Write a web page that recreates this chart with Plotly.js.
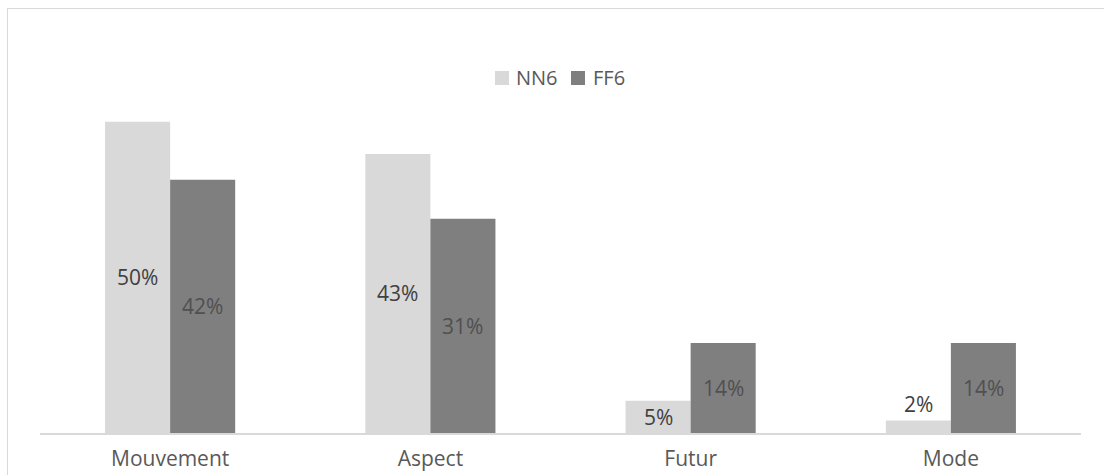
<!DOCTYPE html>
<html>
<head>
<meta charset="utf-8">
<script src="https://cdn.plot.ly/plotly-3.0.1.min.js"></script>
<style>
html,body{margin:0;padding:0;background:#fff;overflow:hidden;}
#wrap{position:relative;width:1104px;height:475px;}
#chart{position:absolute;left:0;top:0;width:1104px;height:475px;}
#frame{position:absolute;left:7px;top:8px;width:1200px;height:600px;border:1px solid #d9d9d9;pointer-events:none;}
</style>
</head>
<body>
<div id="wrap"><div id="chart"></div><div id="frame"></div></div>
<script>
const categories = ["Mouvement", "Aspect", "Futur", "Mode"];
const seriesNames = ["NN6", "FF6"];
const seriesColors = ["#d9d9d9", "#7f7f7f"];
// bar heights
const nn6Values = [49.4, 44.3, 5.1, 2.0];
const ff6Values = [40.2, 34.0, 14.3, 14.3];
// data labels as printed in the picture
const nn6Labels = ["50%", "43%", "5%", "2%"];
const ff6Labels = ["42%", "31%", "14%", "14%"];

const FONT = "Open Sans, Lato, sans-serif";
const PLOT_L = 40, PLOT_W = 1041, PLOT_B = 433, PLOT_H = 333;
const px2x = p => (p - PLOT_L) / PLOT_W;
const px2y = p => (PLOT_B - p) / PLOT_H;

const traces = [
  {type: "bar", name: seriesNames[0], x: categories, y: nn6Values,
   marker: {color: seriesColors[0]}, hoverinfo: "none"},
  {type: "bar", name: seriesNames[1], x: categories, y: ff6Values,
   marker: {color: seriesColors[1]}, hoverinfo: "none"}
];

const annotations = [];
function addLabels(values, labels, offset, color) {
  values.forEach((v, i) => {
    const inside = v > 4;
    annotations.push({
      x: i + offset, y: inside ? v / 2 : v, xref: "x", yref: "y",
      text: labels[i], showarrow: false,
      yanchor: inside ? "middle" : "bottom",
      font: {family: FONT, size: 21, color: color}
    });
  });
}
addLabels(nn6Values, nn6Labels, -0.125, "#404040");
addLabels(ff6Values, ff6Labels, 0.125, "#505050");

// manual legend (top centre)
const shapes = [];
const legendSquares = [495, 571];
const legendText = [514, 591];
seriesNames.forEach((n, k) => {
  shapes.push({type: "rect", xref: "paper", yref: "paper",
    x0: px2x(legendSquares[k]), x1: px2x(legendSquares[k] + 14),
    y0: px2y(85), y1: px2y(71), line: {width: 0}, fillcolor: seriesColors[k]});
  annotations.push({xref: "paper", yref: "paper", x: px2x(legendText[k]), y: px2y(78),
    xanchor: "left", yanchor: "middle", text: n, showarrow: false,
    font: {family: FONT, size: 20, color: "#595959"}});
});

const layout = {
  width: 1104, height: 475,
  margin: {l: PLOT_L, r: 1104 - PLOT_L - PLOT_W, t: PLOT_B - PLOT_H, b: 475 - PLOT_B},
  paper_bgcolor: "rgba(0,0,0,0)", plot_bgcolor: "rgba(0,0,0,0)",
  barmode: "group", bargap: 0.5, bargroupgap: 0,
  showlegend: false,
  xaxis: {type: "category", showline: true, linecolor: "#d9d9d9", linewidth: 2,
          ticks: "", showgrid: false, zeroline: false,
          tickfont: {family: FONT, size: 21, color: "#595959"}, ticklabelstandoff: 6},
  yaxis: {range: [0, 52.86], visible: false, showgrid: false, zeroline: false},
  annotations: annotations,
  shapes: shapes
};

Plotly.newPlot("chart", traces, layout, {displayModeBar: false, staticPlot: true});
</script>
</body>
</html>
